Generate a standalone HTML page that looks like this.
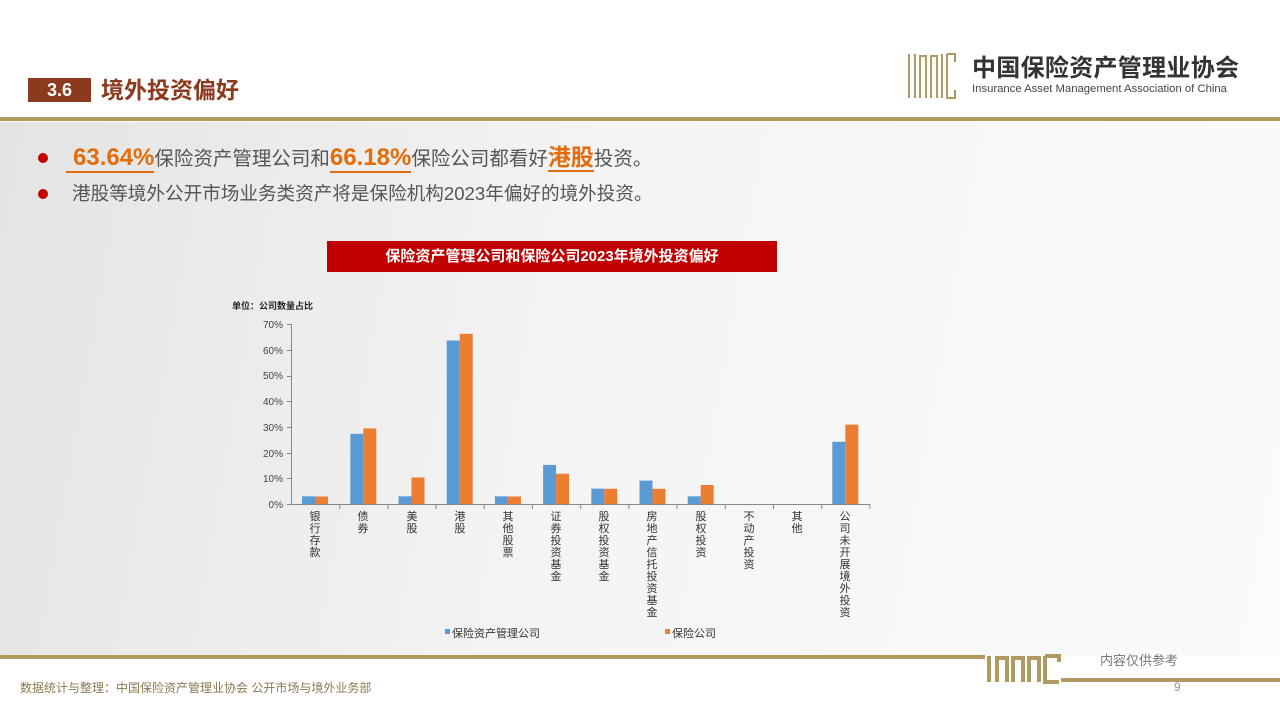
<!DOCTYPE html>
<html><head><meta charset="utf-8"><style>
body{margin:0;width:1280px;height:720px;overflow:hidden;position:relative;font-family:"Liberation Sans","Noto Sans CJK SC",sans-serif;background:#fff}
.bg{position:absolute;left:0;top:122px;width:1280px;height:534px;background:linear-gradient(100deg,#e4e4e4 0%,#f4f4f4 45%,#fbfbfb 100%)}
.abs{position:absolute}
.cl{position:absolute;top:511px;width:12px;font-size:11px;line-height:12px;color:#333;text-align:center;word-break:break-all}
</style></head><body>
<div class="bg"></div>
<div class="abs" style="left:0;top:117px;width:1280px;height:4px;background:#b19a5f"></div>
<div class="abs" style="left:28px;top:78px;width:63px;height:24px;background:#8b3a1e;color:#fff;font-weight:bold;font-size:18px;line-height:24px;text-align:center">3.6</div>
<div class="abs" style="left:101px;top:74px;font-size:23px;font-weight:bold;color:#8b3a1e;line-height:32px">境外投资偏好</div>
<svg class="abs" style="left:906px;top:52px" width="52" height="48">
<g fill="none" stroke="#b19a5f" stroke-width="2">
<path d="M3 2V46M9 2V46M14 46V4H20V46M25 46V4H31V46M36 46V2M41 2V46H49V38M41 2H49V10"/>
</g></svg>
<div class="abs" style="left:972px;top:55px;font-size:24px;font-weight:bold;color:#333;letter-spacing:0.3px;line-height:28px">中国保险资产管理业协会</div>
<div class="abs" style="left:972px;top:83px;font-size:11.3px;color:#444">Insurance Asset Management Association of China</div>
<div class="abs" style="left:38px;top:153px;width:10px;height:10px;border-radius:50%;background:#c00000"></div>
<div class="abs" style="left:38px;top:189px;width:10px;height:10px;border-radius:50%;background:#c00000"></div>
<div class="abs" style="left:66px;top:141px;font-size:19.5px;color:#555;line-height:32px;white-space:nowrap">
<span style="color:#e46c0a;font-weight:bold;font-size:24px;border-bottom:2px solid #e46c0a;padding-left:7px">63.64%</span>保险资产管理公司和<span style="color:#e46c0a;font-weight:bold;font-size:24px;border-bottom:2px solid #e46c0a">66.18%</span>保险公司都看好<span style="color:#e46c0a;font-weight:bold;font-size:23px;border-bottom:2px solid #e46c0a">港股</span>投资。</div>
<div class="abs" style="left:72px;top:180px;font-size:18.6px;color:#555;line-height:28px;white-space:nowrap">港股等境外公开市场业务类资产将是保险机构2023年偏好的境外投资。</div>
<div class="abs" style="left:327px;top:241px;width:450px;height:31px;background:#c00000;color:#fff;font-weight:bold;font-size:15px;line-height:31px;text-align:center">保险资产管理公司和保险公司2023年境外投资偏好</div>
<div class="abs" style="left:232px;top:299px;font-size:9px;font-weight:bold;color:#222">单位：公司数量占比</div>
<svg class="abs" style="left:0;top:0" width="1280" height="720">
<g font-size="10" fill="#444" text-anchor="end" font-family="Liberation Sans">
<text x="283" y="508">0%</text><text x="283" y="482">10%</text><text x="283" y="457">20%</text><text x="283" y="431">30%</text><text x="283" y="405">40%</text><text x="283" y="379">50%</text><text x="283" y="354">60%</text><text x="283" y="328">70%</text>
</g>
<g stroke="#888" stroke-width="1">
<line x1="291.5" y1="324" x2="291.5" y2="504"/>
<line x1="291" y1="504.5" x2="870" y2="504.5"/>
<path d="M287 324.5h4M287 350.5h4M287 376.5h4M287 401.5h4M287 427.5h4M287 453.5h4M287 478.5h4M287 504.5h4"/>
<path d="M339.7 504v5M387.9 504v5M436.1 504v5M484.3 504v5M532.5 504v5M580.7 504v5M628.9 504v5M677.1 504v5M725.3 504v5M773.5 504v5M821.7 504v5M869.9 504v5"/>
</g>
<g fill="#5b9bd5">
<rect x="302" y="496.3" width="13" height="7.7"/>
<rect x="350.3" y="433.8" width="13" height="70.2"/>
<rect x="398.5" y="496.3" width="13" height="7.7"/>
<rect x="446.7" y="340.5" width="13" height="163.5"/>
<rect x="494.9" y="496.3" width="13" height="7.7"/>
<rect x="543.1" y="464.9" width="13" height="39.1"/>
<rect x="591.3" y="488.6" width="13" height="15.4"/>
<rect x="639.5" y="480.6" width="13" height="23.4"/>
<rect x="687.7" y="496.3" width="13" height="7.7"/>
<rect x="832.3" y="441.8" width="13" height="62.2"/>
</g>
<g fill="#ed7d31">
<rect x="315" y="496.5" width="13" height="7.5"/>
<rect x="363.3" y="428.4" width="13" height="75.6"/>
<rect x="411.5" y="477.5" width="13" height="26.5"/>
<rect x="459.7" y="333.8" width="13" height="170.2"/>
<rect x="507.9" y="496.5" width="13" height="7.5"/>
<rect x="556.1" y="473.7" width="13" height="30.3"/>
<rect x="604.3" y="488.8" width="13" height="15.2"/>
<rect x="652.5" y="488.8" width="13" height="15.2"/>
<rect x="700.7" y="485" width="13" height="19"/>
<rect x="845.3" y="424.6" width="13" height="79.4"/>
</g>
<rect x="445" y="629" width="5" height="5" fill="#5b9bd5"/>
<rect x="665" y="629" width="5" height="5" fill="#ed7d31"/>
</svg>
<div class="abs" style="left:452px;top:625px;font-size:11px;color:#333">保险资产管理公司</div>
<div class="abs" style="left:672px;top:625px;font-size:11px;color:#333">保险公司</div>
<div class="cl" style="left:309px">银行存款</div>
<div class="cl" style="left:357px">债券</div>
<div class="cl" style="left:406px">美股</div>
<div class="cl" style="left:454px">港股</div>
<div class="cl" style="left:502px">其他股票</div>
<div class="cl" style="left:550px">证券投资基金</div>
<div class="cl" style="left:598px">股权投资基金</div>
<div class="cl" style="left:646px">房地产信托投资基金</div>
<div class="cl" style="left:695px">股权投资</div>
<div class="cl" style="left:743px">不动产投资</div>
<div class="cl" style="left:791px">其他</div>
<div class="cl" style="left:839px">公司未开展境外投资</div>
<div class="abs" style="left:0;top:655px;width:985px;height:4px;background:#b19a5f"></div>
<svg class="abs" style="left:985px;top:652px" width="295" height="34">
<g fill="none" stroke="#b19a5f" stroke-width="4">
<path d="M4 4V30M12 30V6H22V30M28 30V6H38V30M44 30V6H54V30M60 4V30H74M60 4H74V10"/>
</g>
<rect x="76" y="26" width="219" height="4" fill="#b19a5f"/>
</svg>
<div class="abs" style="left:1100px;top:650px;font-size:13px;color:#777">内容仅供参考</div>
<div class="abs" style="left:1174px;top:680px;font-size:12px;color:#999">9</div>
<div class="abs" style="left:20px;top:679px;font-size:12px;color:#8a7a50">数据统计与整理：中国保险资产管理业协会 公开市场与境外业务部</div>
</body></html>
